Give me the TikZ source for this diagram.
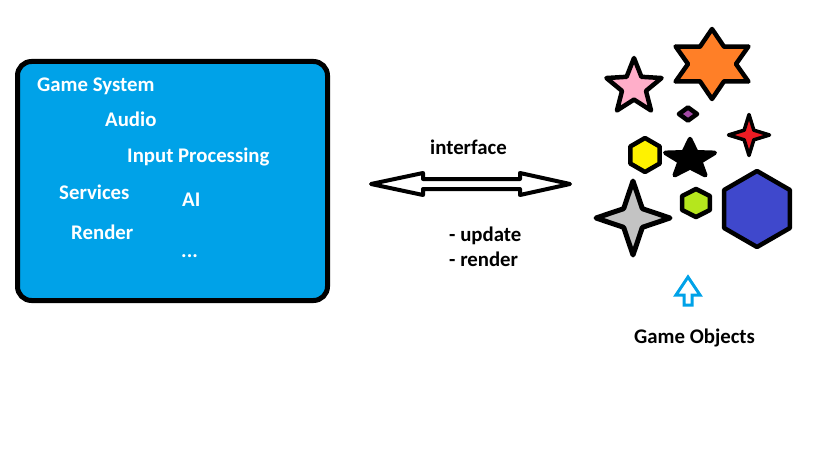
\documentclass[tikz,border=0pt]{standalone}
\usepackage{fontspec}
\setmainfont{Carlito}
\usetikzlibrary{shapes.geometric}

\definecolor{paintblue}{RGB}{0,162,232}
\definecolor{starpink}{RGB}{255,174,201}
\definecolor{starorange}{RGB}{255,127,39}
\definecolor{gempurple}{RGB}{163,73,164}
\definecolor{starred}{RGB}{237,28,36}
\definecolor{hexyellow}{RGB}{255,242,0}
\definecolor{stargray}{RGB}{195,195,195}
\definecolor{hexlime}{RGB}{181,230,29}
\definecolor{hexblue}{RGB}{63,72,204}

\begin{document}
\begin{tikzpicture}[x=1pt, y=-1pt,
    txt/.style={font=\bfseries\fontsize{20.8}{24}\selectfont, inner sep=0pt, anchor=base west},
    boxtxt/.style={txt, text=white},
    thing/.style={draw=black, line width=4.5pt, line join=round, inner sep=0pt}]
    \useasboundingbox (0,0) rectangle (819,460);

    % game system box
    \node[draw, line width=5pt, rounded corners=14pt, fill=paintblue,
        minimum width=310pt, minimum height=239pt] (sys) at (172.5,181) {};

    \node[boxtxt] (title) at (37,92) {Game System};
    \node[boxtxt] (audio) at (105,126) {Audio};
    \node[boxtxt] (input) at (127,162) {Input Processing};
    \node[boxtxt] (services) at (59,199) {Services};
    \node[boxtxt] (ai) at (182,206) {AI};
    \node[boxtxt] (render) at (71,239) {Render};
    \node[boxtxt] (more) at (181,257) {...};

    % interface arrow
    \coordinate (ifL) at (371,184);
    \coordinate (ifR) at (570,184);
    \draw[line width=4pt, line join=round] (ifL) -- ++(52,-11) -- ++(0,6) -- ++(97,0) -- ++(0,-6)
        -- (ifR) -- ++(-50,11) -- ++(0,-6) -- ++(-97,0) -- ++(0,6) -- cycle;

    \node[txt] (iface) at (430,154) {interface};
    \node[txt] (upd) at (449,241) {- update};
    \node[txt] (rnd) at (449,266) {- render};

    % game objects
    \node[thing, star, star points=5, star point ratio=2.3, minimum size=58pt, fill=starpink] (pink) at (634,87) {};
    \node[thing, star, star points=6, star point ratio=1.75, minimum size=70pt, fill=starorange,
        xscale=1.2, transform shape] (orange) at (712,64) {};
    \node[thing, diamond, minimum width=20pt, minimum height=15pt, fill=gempurple] (gem) at (688,114) {};
    \node[thing, star, star points=4, star point ratio=3, minimum size=41pt, line width=3.5pt, fill=starred] (red) at (749,135) {};
    \node[thing, regular polygon, regular polygon sides=6, regular polygon rotate=30,
        minimum size=34pt, fill=hexyellow] (yellow) at (645,155) {};
    \node[thing, star, star points=5, star point ratio=2.4, minimum size=40pt, fill=black,
        xscale=1.3, transform shape] (dark) at (690,159) {};
    \node[thing, star, star points=4, star point ratio=2.8, minimum size=74pt, line width=5pt, fill=stargray] (gray) at (633,218) {};
    \node[thing, regular polygon, regular polygon sides=6, regular polygon rotate=30,
        minimum size=28pt, fill=hexlime, xscale=1.15, transform shape] (lime) at (696,203) {};
    \node[thing, regular polygon, regular polygon sides=6, regular polygon rotate=30,
        minimum size=76pt, fill=hexblue] (indigo) at (757,209) {};

    \node[txt, text=black] (objs) at (634,343) {Game Objects};
    \coordinate (objtip) at (688,277);
    \draw[paintblue, line width=3pt] (objtip) -- ++(12,18) -- ++(-8,0) -- ++(0,10) -- ++(-8,0)
        -- ++(0,-10) -- ++(-8,0) -- cycle;
\end{tikzpicture}
\end{document}
